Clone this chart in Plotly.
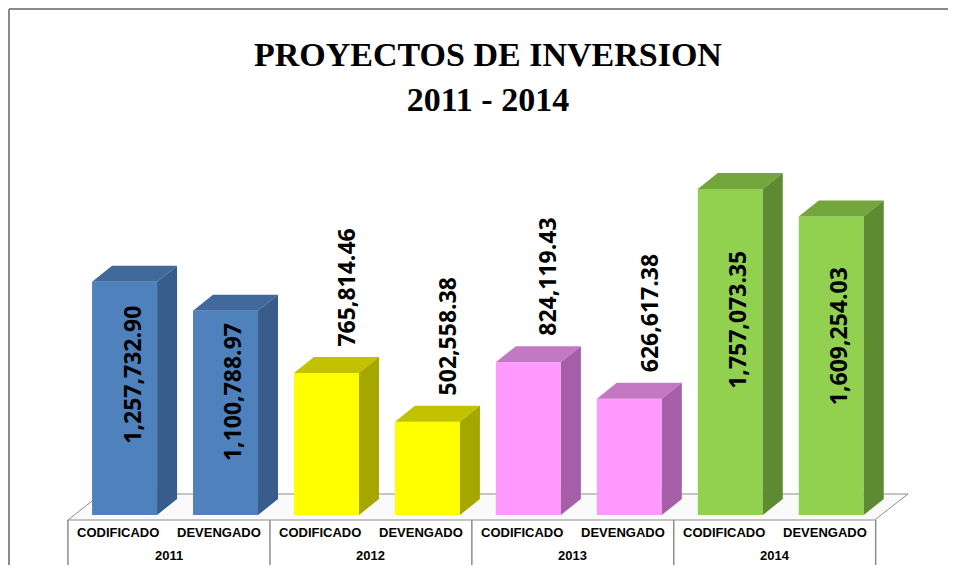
import plotly.graph_objects as go

# ---------------- data ----------------
years = ["2011", "2012", "2013", "2014"]
kinds = ["CODIFICADO", "DEVENGADO"]
values = [1257732.90, 1100788.97, 765814.46, 502558.38,
          824119.43, 626617.38, 1757073.35, 1609254.03]
value_labels = ["1,257,732.90", "1,100,788.97", "765,814.46", "502,558.38",
                "824,119.43", "626,617.38", "1,757,073.35", "1,609,254.03"]

# ---------------- style ----------------
front_colors = ["#4F81BD", "#FFFF00", "#FF99FF", "#92D050"]
top_colors = ["#41699B", "#C2C200", "#C278C2", "#73A63D"]
side_colors = ["#385D8A", "#A6A600", "#A65EA6", "#5E8A31"]

BAR_W = 0.644
DX = 0.198          # depth offset in x units
DY = 86260          # depth offset in y units
YMIN, YMAX = -269550, 1967700
XMIN, XMAX = -0.6, 7.8

n = len(values)
xs = list(range(n))
bar_year = [i // 2 for i in xs]

fig = go.Figure()

# front faces
fig.add_trace(go.Bar(
    x=xs, y=values, width=BAR_W,
    marker=dict(color=[front_colors[bar_year[i]] for i in xs], line=dict(width=0)),
    hoverinfo="skip", showlegend=False,
))

# top and side faces
for i, v in enumerate(values):
    x0 = i - BAR_W / 2
    x1 = i + BAR_W / 2
    yi = bar_year[i]
    fig.add_trace(go.Scatter(
        x=[x0, x1, x1 + DX, x0 + DX, x0],
        y=[v, v, v + DY, v + DY, v],
        fill="toself", fillcolor=top_colors[yi], mode="lines",
        line=dict(width=0, color=top_colors[yi]),
        hoverinfo="skip", showlegend=False,
    ))
    fig.add_trace(go.Scatter(
        x=[x1, x1 + DX, x1 + DX, x1, x1],
        y=[0, DY, v + DY, v, 0],
        fill="toself", fillcolor=side_colors[yi], mode="lines",
        line=dict(width=0, color=side_colors[yi]),
        hoverinfo="skip", showlegend=False,
    ))

shapes = []
grey = "#8C8C8C"
# floor (3D base)
floor_front_y, floor_back_y = -26955, 113211
shapes.append(dict(
    type="path", xref="x", yref="y",
    path=f"M -0.561 {floor_front_y} L 7.43 {floor_front_y} L 7.76 {floor_back_y} L -0.234 {floor_back_y} Z",
    line=dict(color=grey, width=1), fillcolor="#FAFAFA", layer="below",
))
# category table (vertical separators)
group_edges = [-0.561, 1.44, 3.44, 5.44, 7.44]
for gx in group_edges:
    shapes.append(dict(type="line", xref="x", yref="paper", x0=gx, x1=gx,
                       y0=0.1084, y1=-0.0096,
                       line=dict(color=grey, width=1.5)))
# outer chart border (left & top)
shapes.append(dict(type="line", xref="paper", yref="paper",
                   x0=-0.0649, x1=-0.0649, y0=1.3398, y1=-0.034,
                   line=dict(color="#8A8A8A", width=2)))
shapes.append(dict(type="line", xref="paper", yref="paper",
                   x0=-0.0649, x1=1.05, y0=1.3398, y1=1.3398,
                   line=dict(color="#8A8A8A", width=2)))

annotations = []
label_font = dict(family="Open Sans", size=23, color="black")
# value labels
for i, v in enumerate(values):
    if v > 1_000_000:
        annotations.append(dict(
            x=i + 0.07, y=v * 0.6, xref="x", yref="y",
            text=f"<b>{value_labels[i]}</b>", textangle=-90, showarrow=False,
            xanchor="center", yanchor="middle", font=label_font,
        ))
    else:
        annotations.append(dict(
            x=i + 0.19, y=v + DY, xref="x", yref="y",
            text=f"<b>{value_labels[i]}</b>", textangle=-90, showarrow=False,
            xanchor="center", yanchor="bottom", yshift=8, font=label_font,
        ))
# table labels
cat_y = -91650
year_y = -221000
tfont = dict(family="Liberation Sans", size=13, color="black")
for gi, yr in enumerate(years):
    left, right = group_edges[gi], group_edges[gi + 1]
    mid = (left + right) / 2
    for ki, k in enumerate(kinds):
        cx = left + (right - left) * (0.25 + 0.5 * ki)
        annotations.append(dict(
            x=cx, y=cat_y, xref="x", yref="y", text=f"<b>{k}</b>",
            showarrow=False, xanchor="center", yanchor="middle", font=tfont,
        ))
    annotations.append(dict(
        x=mid, y=year_y, xref="x", yref="y", text=f"<b>{yr}</b>",
        showarrow=False, xanchor="center", yanchor="middle", font=tfont,
    ))

fig.update_layout(
    width=940, height=557,
    margin=dict(l=56, r=36, t=142, b=0),
    paper_bgcolor="white", plot_bgcolor="white",
    title=dict(
        text="<b>PROYECTOS DE INVERSION<br>2011 - 2014</b>",
        x=0.5106, xanchor="center", y=0.8952, yanchor="middle",
        font=dict(family="Liberation Serif", size=34, color="black"),
    ),
    xaxis=dict(range=[XMIN, XMAX], visible=False, fixedrange=True),
    yaxis=dict(range=[YMIN, YMAX], visible=False, fixedrange=True),
    shapes=shapes, annotations=annotations,
    showlegend=False,
)

fig.write_html("out.html")
